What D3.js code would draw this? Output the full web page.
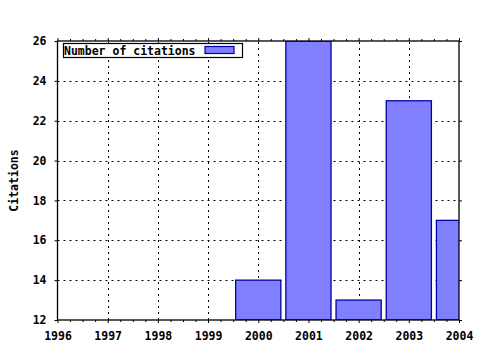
<!DOCTYPE html>
<html><head><meta charset="utf-8">
<script src="https://cdn.jsdelivr.net/npm/d3@7"></script>
<style>body{margin:0;background:#fff}svg{display:block}</style>
</head><body>
<script>
const years = [2000, 2001, 2002, 2003, 2004];
const citations = [14, 26, 13, 23, 17];
const xTicks = [1996, 1997, 1998, 1999, 2000, 2001, 2002, 2003, 2004];
const yTicks = [12, 14, 16, 18, 20, 22, 24, 26];
const seriesName = "Number of citations";
const yLabel = "Citations";

const W = 480, H = 350;
const m = {l: 57.5, r: 21, t: 41, b: 30};
const svg = d3.select("body").append("svg").attr("width", W).attr("height", H);
const x = d3.scaleLinear().domain([1996, 2004]).range([m.l, W - m.r]);
const y = d3.scaleLinear().domain([12, 26]).range([H - m.b, m.t]);
const font = "'DejaVu Sans Mono', monospace";

// grid
const g = svg.append("g");
g.selectAll(".vg").data(xTicks.slice(1, -1)).join("line")
  .attr("x1", d => Math.round(x(d)) + 0.5).attr("x2", d => Math.round(x(d)) + 0.5)
  .attr("y1", y(12)).attr("y2", y(26))
  .attr("stroke", "#000").attr("stroke-width", 1).attr("stroke-dasharray", "2,4");
g.selectAll(".hg").data(yTicks.slice(1, -1)).join("line")
  .attr("y1", d => Math.round(y(d)) + 0.5).attr("y2", d => Math.round(y(d)) + 0.5)
  .attr("x1", x(1996)).attr("x2", x(2004))
  .attr("stroke", "#000").attr("stroke-width", 1).attr("stroke-dasharray", "2,4");

// bars
svg.append("clipPath").attr("id", "clip").append("rect")
  .attr("x", x(1996)).attr("y", y(26)).attr("width", x(2004) - x(1996)).attr("height", y(12) - y(26));
const bw = x(1996.9) - x(1996);
svg.append("g").attr("clip-path", "url(#clip)")
  .selectAll("rect").data(years.map((yr, i) => ({yr, v: citations[i]}))).join("rect")
  .attr("x", d => x(d.yr) - bw / 2).attr("width", bw)
  .attr("y", d => y(d.v)).attr("height", d => y(12) - y(d.v))
  .attr("fill", "#8080ff").attr("stroke", "#0000a8").attr("stroke-width", 1.3);

// axes
const axB = d3.axisBottom(x).tickValues(xTicks).tickFormat(d3.format("d")).tickSize(3).tickPadding(9);
const axT = d3.axisTop(x).tickValues(xTicks).tickFormat("").tickSize(3);
const axL = d3.axisLeft(y).tickValues(yTicks).tickSize(3).tickPadding(8);
const axR = d3.axisRight(y).tickValues(yTicks).tickFormat("").tickSize(3);
const minor = d3.range(1996, 2004.01, 0.25).filter(v => Math.abs(v - Math.round(v)) > 1e-6);
const axBm = d3.axisBottom(x).tickValues(minor).tickFormat("").tickSize(2);
const axTm = d3.axisTop(x).tickValues(minor).tickFormat("").tickSize(2);

function style(sel) {
  sel.selectAll("path.domain").remove();
  sel.selectAll("line").attr("stroke", "#000");
  sel.selectAll("text").attr("font-family", font).attr("font-weight", "bold")
    .attr("font-size", 11.5).attr("fill", "#000");
}
style(svg.append("g").attr("transform", `translate(0,${y(12)})`).call(axB));
style(svg.append("g").attr("transform", `translate(0,${y(12)})`).call(axBm));
style(svg.append("g").attr("transform", `translate(0,${y(26)})`).call(axT));
style(svg.append("g").attr("transform", `translate(0,${y(26)})`).call(axTm));
style(svg.append("g").attr("transform", `translate(${x(1996)},0)`).call(axL));
style(svg.append("g").attr("transform", `translate(${x(2004)},0)`).call(axR));

// frame
svg.append("rect").attr("x", x(1996)).attr("y", y(26))
  .attr("width", x(2004) - x(1996)).attr("height", y(12) - y(26))
  .attr("fill", "none").attr("stroke", "#000").attr("stroke-width", 1.3);

// y label
svg.append("text").attr("transform", `translate(18,${(y(12) + y(26)) / 2}) rotate(-90)`)
  .attr("text-anchor", "middle").attr("font-family", font).attr("font-weight", "bold")
  .attr("font-size", 11.5).text(yLabel);

// legend
const lg = svg.append("g");
lg.append("rect").attr("x", 63.5).attr("y", 43.5).attr("width", 179).attr("height", 14)
  .attr("fill", "#fff").attr("stroke", "#000").attr("stroke-width", 1.2);
lg.append("text").attr("x", 64).attr("y", 54.5).attr("font-family", font).attr("font-weight", "bold")
  .attr("font-size", 11.5).text(seriesName);
lg.append("rect").attr("x", 205).attr("y", 46.5).attr("width", 29).attr("height", 7)
  .attr("fill", "#8080ff").attr("stroke", "#0000a8").attr("stroke-width", 1.2);
</script>
</body></html>
